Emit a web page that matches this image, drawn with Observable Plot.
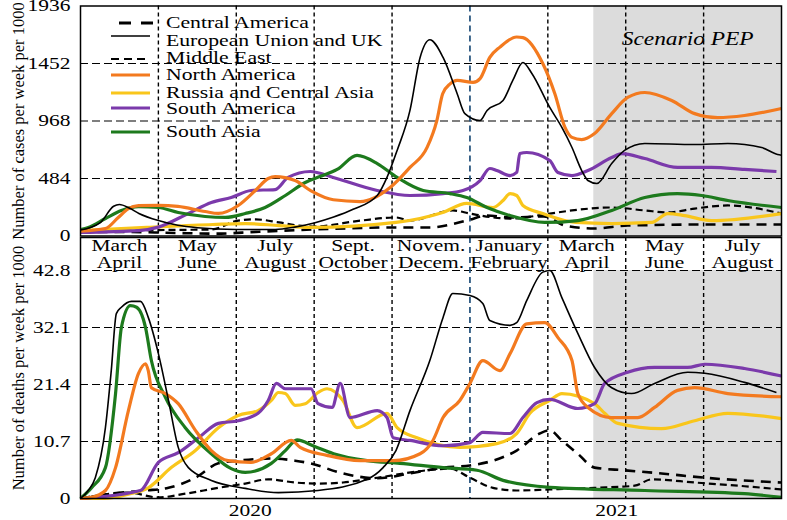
<!DOCTYPE html>
<html><head><meta charset="utf-8">
<script src="https://cdn.jsdelivr.net/npm/d3@7"></script>
<script src="https://cdn.jsdelivr.net/npm/@observablehq/plot@0.6"></script>
<style>
html,body{margin:0;padding:0;background:#fff;}
#chart{position:relative;width:787px;height:520px;}
#chart svg{display:block;overflow:visible;}
</style></head><body><div id="chart"></div>
<script>
// x = months since 1 March 2020
const regionNames = ["Central America","European Union and UK","Middle East","North America","Russia and Central Asia","South America","South Asia"];

// cases per week per 1000 (top panel)
const caCases = [[0,35],[1,35],[2.5,25],[3.5,20],[4.5,35],[6,55],[8.1,72],[8.96,72],[9.92,130],[10.44,172],[11.03,156],[11.9,165],[12.44,88],[13.2,63],[14.05,88],[16.2,97],[18,97]];
const euCases = [[0,50],[0.5,110],[0.85,250],[1.0,265],[1.25,235],[1.5,190],[2.0,130],[2.5,90],[3.0,70],[4.0,55],[5.0,55],[5.5,75],[6.0,110],[6.5,160],[7.0,225],[7.62,341],[7.87,493],[8.13,720],[8.46,1057],[8.72,1503],[8.97,1652],[9.31,1503],[9.67,1200],[9.87,1030],[10.26,972],[10.44,1057],[10.85,1141],[11.1,1309],[11.36,1461],[11.59,1368],[12.05,1082],[12.36,914],[12.62,745],[12.87,551],[13.03,467],[13.26,442],[13.64,610],[13.97,720],[14.49,779],[15.77,770],[16.62,779],[17.49,745],[17.9,686],[18,680]];
const meCases = [[0,45],[1,45],[2,50],[3.36,55],[4.05,130],[4.5,140],[5.1,114],[5.6,88],[6,80],[7.2,130],[8.1,156],[8.46,130],[9.56,215],[10,189],[10.59,156],[11.03,146],[12.05,189],[12.62,215],[13.64,240],[14.49,215],[15.08,198],[15.77,231],[16.62,257],[18,189]];
const naCases = [[0,40],[0.64,63],[0.97,156],[1.23,230],[1.49,255],[2.0,258],[2.5,250],[3.2,206],[3.54,190],[4.05,257],[4.49,383],[4.82,484],[5.0,500],[5.51,467],[5.92,380],[6.49,305],[7.18,290],[7.95,408],[8.46,577],[8.9,746],[9.15,972],[9.3,1197],[9.49,1280],[9.67,1310],[10.08,1293],[10.26,1325],[10.51,1503],[10.77,1590],[11.2,1675],[11.36,1670],[11.87,1452],[12.18,1197],[12.44,914],[12.62,830],[12.87,812],[13.2,862],[13.64,1030],[14.05,1166],[14.49,1208],[15.18,1141],[15.77,1030],[16.36,997],[17.05,1014],[18,1073]];
const ruCases = [[0,45],[1.7,72],[3.4,97],[4.23,105],[5.1,88],[5.92,72],[8.1,114],[9.3,198],[9.92,274],[10.59,240],[10.85,299],[11.03,357],[11.2,341],[11.36,257],[11.87,189],[12.72,114],[13.64,105],[14.67,114],[15.08,189],[15.51,172],[16.2,130],[18,189]];
const saCases = [[0,30],[1.5,45],[2.0,75],[2.77,190],[3.36,282],[3.87,324],[4.38,383],[5.0,391],[5.33,493],[5.9,543],[6.49,493],[7.62,383],[8.46,341],[9.31,357],[9.82,383],[10.26,467],[10.51,568],[10.69,551],[11.03,509],[11.2,535],[11.28,694],[11.46,703],[12.05,635],[12.26,535],[12.62,509],[13.03,551],[13.64,661],[13.9,694],[14.49,652],[15.33,577],[16.2,577],[17.05,560],[17.87,543]];
const sasCases = [[0,55],[0.2,72],[0.64,147],[1.05,215],[1.49,248],[2,240],[2.51,198],[3.2,164],[3.72,156],[4.23,189],[4.74,240],[5.26,341],[5.77,450],[6.15,500],[6.59,560],[7.1,678],[7.62,610],[8.13,493],[8.8,383],[9.49,357],[9.92,324],[10.44,240],[11.03,172],[11.92,114],[12.77,130],[13.64,215],[14.49,324],[15.33,357],[15.95,341],[16.62,299],[18,240]];

// deaths per week per 1000 (bottom panel)
const caDeaths = [[0,0],[0.79,0.9],[1.67,1.5],[2.26,2],[2.95,3.9],[3.54,6.6],[4.05,7.1],[4.9,7.5],[5.51,7.1],[5.9,6.6],[6.74,4.7],[7.62,3.8],[8.46,4.7],[9.31,5.8],[10,6.2],[10.59,7.1],[11.2,9],[11.79,12.2],[12.05,12.8],[12.36,10.9],[12.77,8.4],[13.2,5.8],[13.97,5.3],[14.92,4.7],[16.03,3.9],[18,3]];
const euDeaths = [[0,0],[0.2,1.5],[0.38,3.9],[0.64,13.3],[0.79,24],[0.92,34.7],[1.05,35.9],[1.31,37],[1.54,37],[1.74,34],[2.0,27.2],[2.26,18.4],[2.51,9.6],[2.77,5.8],[3.36,3.4],[4.23,1.9],[5.08,1.1],[6.1,1.5],[7.36,3.6],[7.77,5.8],[8.1,9],[8.46,16.5],[8.97,25.9],[9.31,34],[9.56,38.5],[10,38.1],[10.33,36.6],[10.51,33.4],[11.03,32.5],[11.2,33],[11.46,37.2],[11.87,42.5],[12.05,42.8],[12.36,37.7],[12.77,31],[13.2,24.6],[13.64,20.8],[14.15,19.7],[14.74,21.6],[15.59,23.7],[16.03,23.5],[17.05,21.8],[17.87,19.9]];
const meDeaths = [[0,0],[1.23,1.1],[2.0,0.2],[2.69,0.9],[3.54,2],[4.23,2.8],[4.82,3.6],[5.51,3],[6.1,2.8],[6.74,3],[7.62,3.9],[8.9,5.3],[9.49,5.6],[10,3.9],[10.59,2],[11.2,1.5],[12.05,1.7],[13.2,2],[14.23,2.4],[14.67,3.6],[15.77,3],[17.05,2.3],[18,1.7]];
const naDeaths = [[0,0],[0.28,0.2],[0.64,1.5],[0.9,5.8],[1.23,16.5],[1.49,23.5],[1.67,25.3],[1.74,24],[1.82,20.8],[2.18,19.7],[2.51,17.8],[2.95,12.8],[3.36,9],[3.79,7.1],[4.38,6.8],[4.9,8.4],[5.41,10.9],[5.64,9.6],[6.33,8.1],[7.18,7.1],[8.03,7.1],[8.72,8.4],[9.05,10.9],[9.31,15.2],[9.74,18.4],[10,21.6],[10.33,25.9],[10.77,24],[11.03,27.2],[11.46,32.8],[11.92,33],[12.26,30.2],[12.62,25.9],[12.77,19.7],[13.03,17.1],[13.64,15.2],[14.31,15.2],[14.74,17.1],[15.33,20.3],[15.77,20.8],[16.62,19.7],[18,19.1]];
const ruDeaths = [[0,0],[0.6,0],[1.23,0.8],[1.74,2],[2.33,5.8],[2.95,9],[3.54,13.3],[4.05,15.6],[4.56,16.5],[4.9,18.4],[5.08,19.9],[5.26,19.7],[5.51,17.5],[5.77,17.8],[6.1,19.9],[6.33,20.6],[6.74,18.4],[7.1,13.3],[7.87,16],[8.13,13.3],[8.64,11.4],[9.74,9.6],[10.69,10.3],[11.2,12.2],[11.54,16],[12.05,18.4],[12.36,19.7],[13.2,17.8],[13.46,16],[13.8,14.1],[14.92,13.1],[15.77,14.6],[16.62,16],[18,15]];
const saDeaths = [[0,0],[1.54,1.5],[2.0,6.8],[2.51,8.6],[3.03,11.4],[3.54,14.1],[4.05,14.6],[4.56,16],[4.82,18.4],[5.03,21.6],[5.26,20.6],[5.59,20.6],[5.92,20.6],[6.1,17.8],[6.46,17.1],[6.67,21.6],[6.92,15.2],[7.62,16.5],[7.87,15.2],[8.03,11.4],[8.46,10.9],[9.31,9.9],[10,10.5],[10.33,12.4],[11.03,12.2],[11.36,15.2],[11.72,18],[12.05,18.6],[12.77,16.9],[13.2,17.8],[13.46,21.6],[14.05,23.7],[14.74,24.6],[15.59,24.6],[16.03,25.2],[17.05,24.4],[18,23]];
const sasDeaths = [[0,0],[0.28,2],[0.64,5.8],[0.9,19.7],[1.05,32.1],[1.28,36.2],[1.44,35.9],[1.67,32.1],[1.82,25.9],[2.18,19],[2.69,13.3],[3.36,8.4],[3.87,5.6],[4.23,4.9],[4.9,6.6],[5.26,9],[5.56,11],[6.0,9.8],[6.5,8.4],[7.36,7.1],[8.2,6.6],[9.31,5.8],[10.18,5.3],[10.85,3.4],[12.05,2.1],[14.49,1.5],[17.05,0.9],[18,0.2]];

const casesByRegion = [caCases, euCases, meCases, naCases, ruCases, saCases, sasCases];
const deathsByRegion = [caDeaths, euDeaths, meDeaths, naDeaths, ruDeaths, saDeaths, sasDeaths];

// axes / labels
const caseTicks = [0, 484, 968, 1452, 1936];
const deathTicks = [0, 10.7, 21.4, 32.1, 42.8];
const binEdges = [2, 4, 6, 8, 12, 14, 16];
const yearBoundary = [10];
const binCenters = [1, 3, 5, 7, 9, 11, 13, 15, 17];
const binLabels = ["March\nApril","May\nJune","July\nAugust","Sept.\nOctober","Novem.\nDecem.","January\nFebruary","March\nApril","May\nJune","July\nAugust"];
const yearPositions = [4.36, 13.77];
const yearLabels = ["2020", "2021"];
const scenarioStart = 13.18;
const xMax = 18;
const scenarioLabel = "Scenario PEP";

// styles (drawing order = drawOrder)
const regionStyles = [
  {stroke:"#000", width:2.6, dash:"10,7"},
  {stroke:"#000", width:1.6, dash:null},
  {stroke:"#000", width:2.2, dash:"7,4"},
  {stroke:"#f37a1f", width:3.2, dash:null},
  {stroke:"#f9c61b", width:3.2, dash:null},
  {stroke:"#7b3aab", width:3.2, dash:null},
  {stroke:"#1d7a1d", width:3.2, dash:null}
];
const drawOrder = [0, 2, 4, 5, 6, 3, 1];
const FONT = "Liberation Serif, Times New Roman, serif";
const SHADE = "#dcdcdc";

function lineMarks(byRegion) {
  return drawOrder.map(i => Plot.line(byRegion[i], {
    x: d => d[0], y: d => d[1], curve: "monotone-x",
    stroke: regionStyles[i].stroke, strokeWidth: regionStyles[i].width,
    strokeDasharray: regionStyles[i].dash || undefined,
    strokeLinejoin: "round", strokeLinecap: "butt"
  }));
}
function gridMarks() {
  return [
    Plot.ruleX(binEdges, {stroke:"#000", strokeWidth:1.4, strokeDasharray:"4,3"}),
    Plot.ruleX(yearBoundary, {stroke:"#1f4e79", strokeWidth:1.7, strokeDasharray:"6,4"})
  ];
}

const topPlot = Plot.plot({
  width: 787, height: 236, marginLeft: 80, marginRight: 6, marginTop: 5.5, marginBottom: 0.5,
  x: {domain: [0, xMax], axis: null},
  y: {domain: [0, caseTicks[caseTicks.length-1]]},
  style: {fontFamily: FONT, fontSize: "16.5px", color: "#000", background: "none"},
  marks: [
    Plot.rect([{x1: scenarioStart, x2: xMax}], {x1: "x1", x2: "x2", y1: () => 0, y2: () => caseTicks[caseTicks.length-1], fill: SHADE}),
    Plot.ruleY(caseTicks.slice(1, -1), {stroke:"#000", strokeWidth:1.2, strokeDasharray:"8,4"}),
    ...gridMarks(),
    ...lineMarks(casesByRegion),
    Plot.text([{x: (scenarioStart + xMax) / 2, t: scenarioLabel}], {x: "x", text: "t", frameAnchor: "top", dy: 33.5, lineAnchor: "middle", fontStyle: "italic", fontSize: 18}),
    Plot.axisY(caseTicks, {tickSize: 0, tickPadding: 10, tickFormat: d => String(d), label: "Number of cases per week per 1000", labelAnchor: "center", labelOffset: 68, labelArrow: "none"}),
    Plot.frame({stroke: "#000", strokeWidth: 1.5})
  ]
});

const deathTop = deathTicks[deathTicks.length-1];
const bottomPlot = Plot.plot({
  width: 787, height: 284, marginLeft: 80, marginRight: 6, marginTop: 1, marginBottom: 22,
  x: {domain: [0, xMax]},
  y: {domain: [0, 49]},
  style: {fontFamily: FONT, fontSize: "16.5px", color: "#000", background: "none"},
  marks: [
    Plot.rect([{x1: scenarioStart, x2: xMax}], {x1: "x1", x2: "x2", y1: () => 0, y2: () => deathTop, fill: SHADE}),
    Plot.ruleY(deathTicks.slice(1), {stroke:"#000", strokeWidth:1.2, strokeDasharray:"8,4"}),
    ...gridMarks(),
    ...lineMarks(deathsByRegion),
    Plot.text(binLabels, {x: binCenters, text: d => d, frameAnchor: "top", dy: 16.5, lineAnchor: "middle", lineHeight: 1.03}),
    Plot.axisY(deathTicks, {tickSize: 0, tickPadding: 10, tickFormat: d => String(d), label: "Number of deaths per week per 1000", labelAnchor: "center", labelOffset: 68, labelArrow: "none"}),
    Plot.axisX(yearPositions, {tickSize: 0, tickPadding: 6, tickFormat: d => yearLabels[yearPositions.indexOf(d)], label: null}),
    Plot.frame({stroke: "#000", strokeWidth: 1.5})
  ]
});

const chart = document.getElementById("chart");
chart.appendChild(topPlot);
chart.appendChild(bottomPlot);

function stretchTexts(root, f) {
  root.querySelectorAll("text").forEach(t => {
    if ((t.getAttribute("transform") || "").includes("rotate")) return;
    const spans = t.querySelectorAll("tspan");
    (spans.length ? [...spans] : [t]).forEach(el => {
      const L = el.getComputedTextLength();
      if (L > 0) { el.setAttribute("textLength", (L * f).toFixed(1)); el.setAttribute("lengthAdjust", "spacingAndGlyphs"); }
    });
  });
}
stretchTexts(topPlot, 1.3);
stretchTexts(bottomPlot, 1.3);

// legend (layout in pixels)
const legendTextY = [22, 40, 57, 74, 92, 108, 131];
const legendLineY = [23, 36, 59, 75, 93, 108, 132];
const lg = d3.select(topPlot).append("g")
  .attr("font-family", FONT).attr("font-size", 17.5).attr("text-anchor", "start");
regionNames.forEach((name, i) => {
  const s = regionStyles[i];
  lg.append("line").attr("x1", i === 0 ? 119 : 111).attr("x2", i === 0 ? 153 : 150)
    .attr("y1", legendLineY[i]).attr("y2", legendLineY[i])
    .attr("stroke", s.stroke).attr("stroke-width", i === 0 ? 3 : s.width)
    .attr("stroke-dasharray", i === 0 ? "12,10" : (s.dash ? "8,5" : null));
  lg.append("text").attr("x", 166).attr("y", legendTextY[i]).attr("dy", "0.35em")
    .attr("text-anchor", "start").attr("fill", "#000").text(name);
});
stretchTexts(lg.node(), 1.24);
</script></body></html>
